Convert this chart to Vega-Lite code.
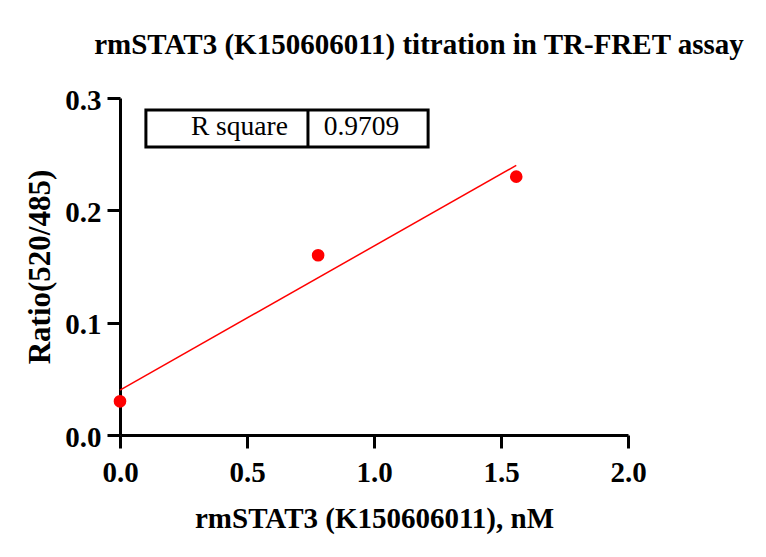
{
  "$schema": "https://vega.github.io/schema/vega-lite/v6.json",
  "width": 508,
  "height": 337,
  "autosize": {"type": "none"},
  "padding": {"left": 120, "top": 98, "right": 138, "bottom": 122},
  "background": "white",
  "title": {
    "text": "rmSTAT3 (K150606011) titration in TR-FRET assay",
    "font": "Liberation Serif",
    "fontWeight": "bold",
    "fontSize": 29,
    "color": "black",
    "anchor": "middle",
    "dx": 45,
    "offset": 26
  },
  "config": {
    "view": {"stroke": null},
    "axis": {
      "grid": false,
      "domainColor": "black",
      "domainWidth": 3,
      "tickColor": "black",
      "tickWidth": 3,
      "tickSize": 13,
      "labelFlush": false,
      "labelOverlap": false,
      "labelFont": "Liberation Serif",
      "labelFontWeight": "bold",
      "labelFontSize": 29,
      "labelColor": "black",
      "titleFont": "Liberation Serif",
      "titleFontWeight": "bold",
      "titleColor": "black"
    }
  },
  "datasets": {
    "points": [
      {"conc": 0, "ratio": 0.03},
      {"conc": 0.78, "ratio": 0.16},
      {"conc": 1.56, "ratio": 0.23}
    ],
    "box": [
      {"x1": 0.102, "x2": 1.213, "y1": 0.2564, "y2": 0.2893}
    ],
    "divider": [
      {"x": 0.74, "y1": 0.2564, "y2": 0.2893}
    ],
    "label1": [
      {"x": 0.661, "y": 0.2671, "label": "R square"}
    ],
    "label2": [
      {"x": 0.951, "y": 0.2671, "label": "0.9709"}
    ]
  },
  "layer": [
    {
      "data": {"name": "points"},
      "transform": [{"regression": "ratio", "on": "conc", "method": "linear"}],
      "mark": {"type": "line", "color": "#ff0000", "strokeWidth": 1.5},
      "encoding": {
        "x": {
          "field": "conc", "type": "quantitative",
          "scale": {"domain": [0, 2]},
          "axis": {"values": [0, 0.5, 1, 1.5, 2], "format": ".1f", "title": "rmSTAT3 (K150606011), nM", "titleFontSize": 29, "labelPadding": 10, "titlePadding": 17}
        },
        "y": {
          "field": "ratio", "type": "quantitative",
          "scale": {"domain": [0, 0.3]},
          "axis": {"values": [0, 0.1, 0.2, 0.3], "format": ".1f", "title": "Ratio(520/485)", "titleFontSize": 31, "labelPadding": 6, "labelOffset": 2, "titlePadding": 8}
        }
      }
    },
    {
      "data": {"name": "points"},
      "mark": {"type": "point", "filled": true, "color": "#ff0000", "opacity": 1, "size": 160, "clip": false},
      "encoding": {
        "x": {"field": "conc", "type": "quantitative"},
        "y": {"field": "ratio", "type": "quantitative"}
      }
    },
    {
      "data": {"name": "box"},
      "mark": {"type": "rect", "fill": "white", "stroke": "black", "strokeWidth": 3},
      "encoding": {
        "x": {"field": "x1", "type": "quantitative"},
        "x2": {"field": "x2"},
        "y": {"field": "y1", "type": "quantitative"},
        "y2": {"field": "y2"}
      }
    },
    {
      "data": {"name": "divider"},
      "mark": {"type": "rule", "color": "black", "strokeWidth": 3},
      "encoding": {
        "x": {"field": "x", "type": "quantitative"},
        "y": {"field": "y1", "type": "quantitative"},
        "y2": {"field": "y2"}
      }
    },
    {
      "data": {"name": "label1"},
      "mark": {"type": "text", "font": "Liberation Serif", "fontSize": 27.5, "color": "black", "baseline": "alphabetic", "align": "right"},
      "encoding": {
        "x": {"field": "x", "type": "quantitative"},
        "y": {"field": "y", "type": "quantitative"},
        "text": {"field": "label"}
      }
    },
    {
      "data": {"name": "label2"},
      "mark": {"type": "text", "font": "Liberation Serif", "fontSize": 27.5, "color": "black", "baseline": "alphabetic", "align": "center"},
      "encoding": {
        "x": {"field": "x", "type": "quantitative"},
        "y": {"field": "y", "type": "quantitative"},
        "text": {"field": "label"}
      }
    }
  ]
}
